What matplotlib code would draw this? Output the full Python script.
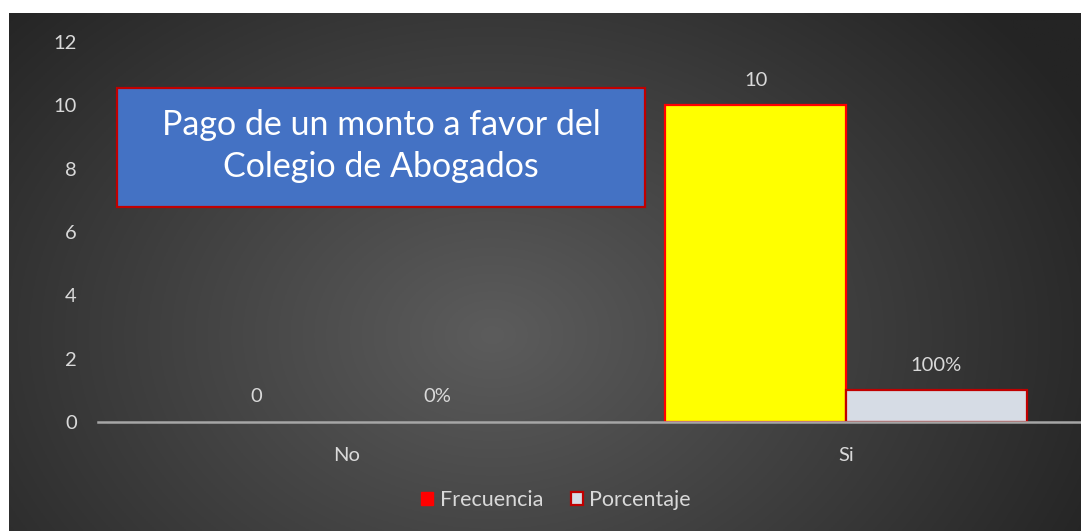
import numpy as np
import matplotlib
matplotlib.use("Agg")
import matplotlib.pyplot as plt
from matplotlib.patches import Rectangle, Patch
from matplotlib.ticker import FixedLocator

categories = ["No", "Si"]
frecuencia = [0, 10]
porcentaje = [0.0, 1.0]
yticks = [0, 2, 4, 6, 8, 10, 12]
title_text = "Pago de un monto a favor del\nColegio de Abogados"

plt.rcParams['font.family'] = ['Lato', 'DejaVu Sans']
W, H = 1081, 531
fig = plt.figure(figsize=(W / 100, H / 100), dpi=100, facecolor="white")

# background with radial gradient
bg = fig.add_axes([9 / W, 0, 1 - 9 / W, 1 - 13 / H])
bg.set_axis_off()
ny, nx = 260, 540
yy, xx = np.mgrid[0:ny, 0:nx]
cx, cy = nx * 0.45, ny * 0.62
d = np.sqrt(((xx - cx) / (nx * 0.62)) ** 2 + ((yy - cy) / (ny * 0.95)) ** 2)
d = np.clip(d, 0, 1)
inner = np.array([0x5c, 0x5c, 0x5c]) / 255
outer = np.array([0x24, 0x24, 0x24]) / 255
img = inner[None, None, :] * (1 - d[..., None]) + outer[None, None, :] * d[..., None]
bg.imshow(img, aspect="auto", extent=[0, 1, 0, 1], origin="upper")
bg.set_xlim(0, 1)
bg.set_ylim(0, 1)

FS = 14.5
ax = fig.add_axes([97.5 / W, 109 / H, 998 / W, 380 / H])
ax.patch.set_alpha(0)
x = np.arange(len(categories))
w = 0.362
b1 = ax.bar(x - w / 2, frecuencia, w, color="#ffff00", edgecolor="#ff0000",
            linewidth=[1.6 if v else 0 for v in frecuencia], zorder=3)
b2 = ax.bar(x + w / 2, porcentaje, w, color="#d6dce5", edgecolor="#c00000",
            linewidth=[1.6 if v else 0 for v in porcentaje], zorder=3)

for xi, v in zip(x - w / 2, frecuencia):
    ax.annotate(f"{v}", (xi, v), xytext=(0, 18), textcoords="offset points",
                ha="center", va="center", color="#d9d9d9", fontsize=FS)
for xi, v in zip(x + w / 2, porcentaje):
    ax.annotate(f"{v:.0%}", (xi, v), xytext=(0, 18), textcoords="offset points",
                ha="center", va="center", color="#d9d9d9", fontsize=FS)

ax.set_xlim(-0.5, 1.5)
ax.set_ylim(0, 12)
ax.yaxis.set_major_locator(FixedLocator(yticks))
ax.set_xticks(x)
ax.set_xticklabels(categories)
for s in ["top", "right", "left"]:
    ax.spines[s].set_visible(False)
ax.spines["bottom"].set_color("#a6a6a6")
ax.spines["bottom"].set_linewidth(1.8)
ax.spines["bottom"].set_zorder(4)
ax.tick_params(axis="both", length=0, colors="#d9d9d9", labelsize=FS)
ax.tick_params(axis="y", pad=15)
ax.tick_params(axis="x", pad=18)

# title box
fig.patches.append(Rectangle((117 / W, 1 - 207 / H), (645 - 117) / W, (207 - 88) / H,
                             transform=fig.transFigure, facecolor="#4472c4",
                             edgecolor="#c00000", linewidth=1.6, zorder=5))
fig.text(381 / W, 1 - 146 / H, title_text, ha="center", va="center", color="white",
         fontsize=24.5, linespacing=1.38, zorder=6)

handles = [Patch(facecolor="#ff0000", edgecolor="#ff0000"),
           Patch(facecolor="#d6dce5", edgecolor="#c00000", linewidth=1.6)]
fig.legend(handles, ["Frecuencia", "Porcentaje"], loc="center", bbox_to_anchor=(556 / W, 1 - 500 / H),
           ncol=2, frameon=False, fontsize=15.5, labelcolor="#d9d9d9",
           handlelength=0.55, handleheight=0.55, handletextpad=0.3, columnspacing=1.3)

fig.savefig("out.png", dpi=100, facecolor="white")
